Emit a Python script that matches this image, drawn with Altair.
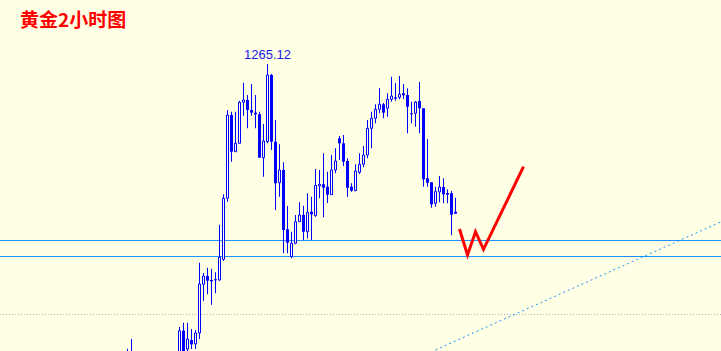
import altair as alt
import pandas as pd

# ---- data ----
bar_index = [31, 32] + list(range(44, 114))

opens = [1206.72, 1206.92,
         1205.92, 1211.78, 1208.12, 1209.92, 1209.12, 1211.32, 1221.06, 1222.72, 1221.92, 1222.06,
         1221.92, 1226.06, 1238.26, 1254.92, 1247.58, 1249.26, 1257.46, 1257.92, 1255.92, 1255.38,
         1255.06, 1246.38, 1249.58, 1262.92, 1249.58, 1241.38, 1243.92, 1232.06, 1226.58, 1229.26,
         1233.58, 1234.92, 1231.58, 1235.58, 1234.78, 1240.72, 1241.06, 1240.58, 1238.98, 1243.92,
         1250.26, 1249.26, 1245.72, 1240.58, 1239.78, 1243.46, 1245.06, 1246.92, 1252.26, 1254.26,
         1256.06, 1257.06, 1256.26, 1258.06, 1258.46, 1258.46, 1259.26, 1258.92, 1255.26, 1255.26,
         1257.72, 1256.26, 1242.26, 1241.46, 1237.26, 1239.52, 1240.52, 1239.32, 1239.26, 1235.58]
highs = [1208.18, 1210.12,
         1212.52, 1213.38, 1213.38, 1212.12, 1211.92, 1225.38, 1223.32, 1224.38, 1224.18, 1223.46,
         1232.98, 1239.06, 1255.92, 1255.58, 1255.58, 1257.78, 1261.38, 1258.92, 1261.12, 1258.92,
         1255.58, 1253.12, 1265.12, 1263.12, 1253.92, 1249.06, 1245.46, 1236.72, 1231.58, 1234.92,
         1237.46, 1236.78, 1239.26, 1238.58, 1244.12, 1243.92, 1247.26, 1243.58, 1246.92, 1248.26,
         1250.72, 1250.92, 1246.26, 1241.26, 1245.06, 1247.26, 1248.72, 1253.92, 1255.58, 1257.06,
         1260.26, 1257.32, 1259.26, 1262.58, 1261.26, 1262.72, 1261.12, 1260.26, 1257.58, 1257.72,
         1261.52, 1256.32, 1250.06, 1241.52, 1240.58, 1242.72, 1242.26, 1240.06, 1239.72, 1238.38]
lows = [1205.52, 1204.92,
        1204.92, 1205.52, 1207.52, 1208.12, 1208.12, 1210.12, 1217.78, 1219.06, 1216.98, 1219.26,
        1221.78, 1225.72, 1237.58, 1245.58, 1247.52, 1249.26, 1254.78, 1252.26, 1254.78, 1252.26,
        1246.38, 1242.58, 1249.26, 1247.92, 1235.92, 1238.58, 1227.26, 1227.26, 1226.26, 1229.06,
        1233.58, 1229.92, 1230.26, 1229.92, 1234.58, 1238.26, 1234.46, 1237.32, 1238.92, 1243.26,
        1245.92, 1244.72, 1238.58, 1239.58, 1239.72, 1243.12, 1244.46, 1246.26, 1248.26, 1253.26,
        1255.26, 1254.26, 1254.58, 1257.58, 1257.78, 1258.06, 1258.12, 1251.26, 1253.26, 1252.58,
        1251.26, 1240.58, 1240.58, 1236.38, 1236.58, 1237.46, 1237.26, 1237.26, 1230.86, 1235.18]
closes = [1206.32, 1205.92,
          1211.78, 1206.72, 1210.12, 1209.06, 1211.32, 1221.12, 1222.72, 1221.78, 1221.66, 1221.86,
          1226.46, 1238.26, 1254.92, 1247.58, 1249.26, 1257.46, 1257.92, 1255.92, 1255.38, 1255.06,
          1246.38, 1249.72, 1262.92, 1249.58, 1241.26, 1243.92, 1231.92, 1229.38, 1229.26, 1233.58,
          1234.92, 1231.58, 1235.46, 1235.06, 1240.86, 1241.06, 1240.38, 1238.98, 1243.92, 1245.72,
          1249.26, 1245.58, 1240.38, 1239.78, 1243.72, 1245.06, 1246.92, 1252.26, 1254.26, 1256.06,
          1257.06, 1255.38, 1258.06, 1258.72, 1258.18, 1259.06, 1258.86, 1256.58, 1255.06, 1257.52,
          1256.26, 1242.06, 1241.38, 1237.06, 1239.58, 1240.52, 1239.06, 1238.98, 1234.98, 1235.18]

support_levels = [1229.82, 1226.62]
grid_level = [1215.02]
trend_bars = [108, 180]
trend_prices = [1207.94, 1233.78]
w_bars = [114, 116, 118, 120, 130]
w_prices = [1232.12, 1226.92, 1231.58, 1228.06, 1244.58]
peak_bar = [66]
peak_label_price = [1266.92]
peak_text = ["1265.12"]
title_text = "黄金2小时图"

BG = "#FFFFE6"
BLUE = "#0000FF"
LINE_BLUE = "#1E90FF"

df = pd.DataFrame({"t": bar_index, "open": opens, "high": highs, "low": lows, "close": closes})
df["up"] = df["close"] >= df["open"]

xs = alt.Scale(domain=[-0.875, 179.375], nice=False, zero=False)
ys = alt.Scale(domain=[1207.72, 1277.92], nice=False, zero=False)

X = lambda f: alt.X(f, type="quantitative", scale=xs, axis=None)
Y = lambda f: alt.Y(f, type="quantitative", scale=ys, axis=None)

grid = alt.Chart(pd.DataFrame({"p": grid_level})).mark_rule(
    color="#B0B0B0", strokeDash=[1, 2], strokeWidth=1
).encode(y=Y("p"))

supports = alt.Chart(pd.DataFrame({"p": support_levels})).mark_rule(
    color=LINE_BLUE, strokeWidth=1
).encode(y=Y("p"))

trend = alt.Chart(pd.DataFrame({"t": trend_bars, "p": trend_prices})).mark_line(
    color=LINE_BLUE, strokeWidth=1, strokeDash=[2, 3], clip=True
).encode(x=X("t"), y=Y("p"))

base = alt.Chart(df)

wicks = base.transform_calculate(
    a="datum.t - 0.125", b="datum.t + 0.125"
).mark_rect(color=BLUE, clip=True).encode(
    x=X("a"), x2="b", y=Y("low"), y2="high"
)

down_bodies = base.transform_filter("!datum.up").transform_calculate(
    a="datum.t - 0.375", b="datum.t + 0.375"
).mark_rect(color=BLUE, clip=True).encode(
    x=X("a"), x2="b", y=Y("open"), y2="close"
)

up_bodies = base.transform_filter("datum.up").transform_calculate(
    a="datum.t - 0.25", b="datum.t + 0.25"
).mark_rect(fill=BG, stroke=BLUE, strokeWidth=1, clip=True).encode(
    x=X("a"), x2="b", y=Y("close"), y2="open"
)

wline = alt.Chart(pd.DataFrame({"t": w_bars, "p": w_prices})).mark_line(
    color="#FF0000", strokeWidth=3, strokeJoin="miter"
).encode(x=X("t"), y=Y("p"))

peak = alt.Chart(pd.DataFrame({"t": peak_bar, "p": peak_label_price, "s": peak_text})).mark_text(
    color="#1A1AE6", font="Liberation Sans", fontSize=13, align="center", baseline="middle"
).encode(x=X("t"), y=Y("p"), text="s:N")

title = alt.Chart(pd.DataFrame({"s": [title_text]})).mark_text(
    color="#FF0000", font="Noto Sans CJK SC", fontSize=19, fontWeight="bold",
    align="left", baseline="middle"
).encode(x=alt.value(20), y=alt.value(21), text="s:N")

chart = alt.layer(
    grid, supports, trend, wicks, down_bodies, up_bodies, wline, peak, title
).properties(
    width=721, height=351, background=BG, padding=0,
    autosize=alt.AutoSizeParams(type="none")
).configure_view(stroke=None, fill=BG)

chart.save("out.html", embed_options={"renderer": "svg", "actions": False})
